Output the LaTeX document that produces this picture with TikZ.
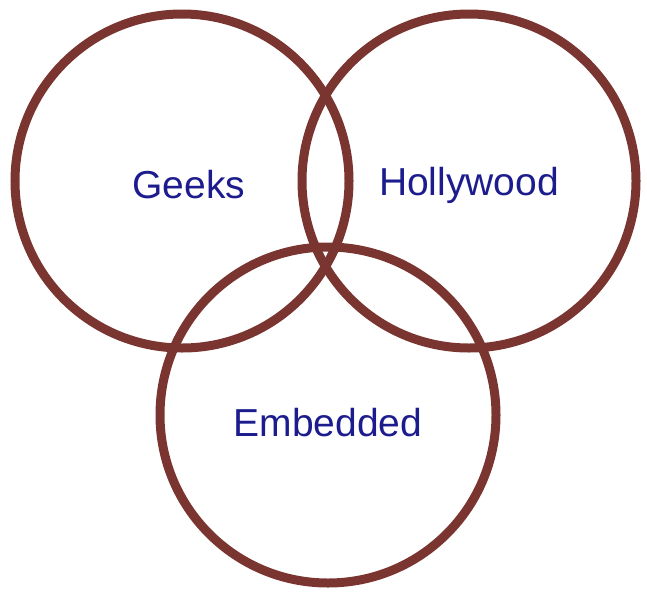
\documentclass[tikz,border=0pt]{standalone}
\usepackage{fontspec}
\setmainfont{Liberation Sans}
\definecolor{ring}{HTML}{7A3530}
\definecolor{lbl}{HTML}{1C1C8E}
\begin{document}
\begin{tikzpicture}[x=1pt,y=-1pt,
  ringc/.style={draw=ring,line width=9pt},
  lab/.style={text=lbl,font=\fontsize{39}{44}\selectfont,inner sep=0pt,anchor=center}]
\useasboundingbox (0,0) rectangle (647,592);
\draw[ringc] (182,181) circle (167);
\draw[ringc] (469,181) circle (167);
\draw[ringc] (328,415) circle (168);
\node[lab] (geeks) at (189,185) {Geeks};
\node[lab] (holly) at (469,185) {Hollywood};
\node[lab] (emb) at (328,423) {Embedded};
\end{tikzpicture}
\end{document}
